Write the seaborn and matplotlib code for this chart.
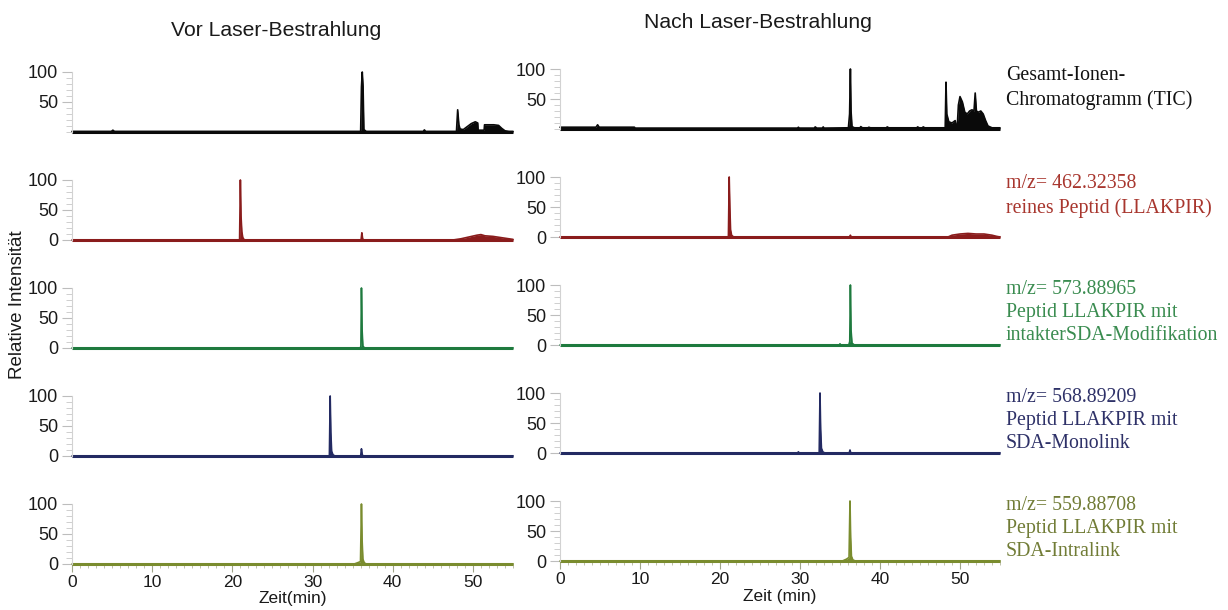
import numpy as np
import pandas as pd
import matplotlib
matplotlib.use("Agg")
import matplotlib.pyplot as plt
from matplotlib.ticker import MultipleLocator, FixedLocator
import seaborn as sns

# ---------------- data (time [min], relative intensity [%]) ----------------
tic_vor = [(0, 1), (4.9, 1), (5.1, 3), (5.3, 1), (36.0, 1), (36.1, 75), (36.2, 100),
           (36.3, 76), (36.4, 4), (36.7, 1), (43.8, 1), (43.95, 3.5), (44.1, 1),
           (47.95, 1), (48.1, 37), (48.25, 12), (48.4, 5), (48.8, 4), (49.3, 9),
           (49.8, 14), (50.3, 17), (50.6, 15), (50.65, 3), (51.4, 3), (51.45, 12),
           (52.0, 12), (52.6, 12), (53.2, 11), (53.6, 6), (54.0, 2), (54.5, 1), (55, 1)]
tic_nach = [(0, 3), (4.5, 3), (4.7, 7), (4.9, 3), (9.3, 3), (9.4, 1.5), (29.7, 1.5),
            (29.8, 3), (29.9, 1.5), (31.8, 1.5), (31.9, 3.5), (32.1, 1.5), (32.8, 1.5),
            (32.9, 3.5), (33.0, 1.5), (36.05, 2), (36.2, 25), (36.3, 100), (36.38, 30),
            (36.5, 4), (36.8, 2), (37.5, 2), (37.6, 4), (37.8, 2), (38.5, 2), (38.6, 3),
            (38.8, 2), (40.8, 2), (40.9, 3.5), (41.1, 2), (44.6, 2), (44.7, 3.5),
            (44.9, 2), (45.3, 2), (45.4, 3.5), (45.6, 2), (48.15, 2), (48.25, 78),
            (48.35, 25), (48.6, 12), (49.0, 10), (49.4, 14), (49.55, 2), (49.65, 2),
            (49.8, 40), (50.0, 54), (50.3, 45), (50.6, 28), (50.9, 25), (51.2, 30),
            (51.5, 32), (51.75, 30), (51.9, 60), (52.05, 30), (52.3, 28), (52.6, 30),
            (52.9, 25), (53.2, 14), (53.5, 5), (54.0, 2), (55, 2)]

red_vor = [(0, 0), (20.9, 0), (21.0, 100), (21.08, 40), (21.18, 14), (21.3, 4),
           (21.5, 0), (36.05, 0), (36.15, 12), (36.25, 2), (36.4, 0), (47.5, 0),
           (48.5, 2), (49.5, 5), (50.5, 8), (51.0, 9), (51.5, 7), (52.5, 6),
           (53.5, 4), (54.5, 2), (55, 1)]
red_nach = [(0, 0), (21.05, 0), (21.15, 100), (21.23, 50), (21.32, 12), (21.45, 3),
            (21.7, 0), (36.2, 0), (36.3, 3), (36.4, 0), (48.5, 0), (49.0, 3),
            (50.0, 5), (51.0, 6), (52.0, 5), (53.0, 5), (54.0, 3), (54.6, 1), (55, 0)]

green_vor = [(0, 0), (35.95, 0), (36.03, 3), (36.1, 100), (36.18, 30), (36.28, 3),
             (36.5, 0), (55, 0)]
green_nach = [(0, 0), (34.9, 0), (35.0, 2), (35.1, 0), (36.1, 0), (36.22, 6),
              (36.3, 100), (36.38, 25), (36.5, 3), (36.8, 0), (55, 0)]

navy_vor = [(0, 0), (32.1, 0), (32.2, 100), (32.28, 40), (32.38, 8), (32.55, 2),
            (32.8, 0), (36.0, 0), (36.1, 12), (36.2, 2), (36.35, 0), (55, 0)]
navy_nach = [(0, 0), (29.7, 0), (29.8, 2), (29.9, 0), (32.4, 0), (32.5, 100),
             (32.58, 40), (32.68, 8), (32.85, 2), (33.1, 0), (36.15, 0), (36.25, 5),
             (36.35, 0), (55, 0)]

olive_vor = [(0, 0), (35.2, 0), (35.6, 2), (35.98, 4), (36.1, 100), (36.18, 40),
             (36.28, 8), (36.45, 2), (36.7, 0), (55, 0)]
olive_nach = [(0, 0), (35.3, 0), (35.8, 3), (36.13, 6), (36.25, 100), (36.33, 40),
              (36.43, 8), (36.6, 2), (36.9, 0), (55, 0)]

col_titles = ["Vor Laser-Bestrahlung", "Nach Laser-Bestrahlung"]
x_labels = ["Zeit(min)", "Zeit (min)"]
y_label = "Relative Intensität"
row_labels = [
    ["Gesamt-Ionen-", "Chromatogramm (TIC)"],
    ["m/z= 462.32358", "reines Peptid (LLAKPIR)"],
    ["m/z= 573.88965", "Peptid LLAKPIR mit", "intakterSDA-Modifikation"],
    ["m/z= 568.89209", "Peptid LLAKPIR mit", "SDA-Monolink"],
    ["m/z= 559.88708", "Peptid LLAKPIR mit", "SDA-Intralink"],
]
x_ticks = [0, 10, 20, 30, 40, 50]

traces = [[tic_vor, tic_nach], [red_vor, red_nach], [green_vor, green_nach],
          [navy_vor, navy_nach], [olive_vor, olive_nach]]
line_colors = ["#0a0a0a", "#8a1c1c", "#1e7a3e", "#232a62", "#7a8c2e"]
label_colors = ["#111111", "#a8362e", "#3a8c50", "#2e3168", "#717c36"]

# ---------------- styling ----------------
sns.set_theme(style="white")
plt.rcParams["font.family"] = ["Liberation Sans", "DejaVu Sans"]

W, H = 1228, 610
fig = plt.figure(figsize=(W / 100, H / 100), dpi=100)
fig.patch.set_facecolor("white")

col_x = [(72, 513), (560, 1000)]
col_dy = [0, -3]
row_zero = [132, 240, 348, 456, 564]
span = 60
offsets_2 = [-53, -29]
offsets_3 = [-56, -32, -9]

for r in range(5):
    for c in range(2):
        x0, x1 = col_x[c]
        y0 = row_zero[r] + col_dy[c]
        ax = fig.add_axes([x0 / W, 1 - y0 / H, (x1 - x0) / W, span / H])
        ax.set_facecolor("none")
        df = pd.DataFrame(traces[r][c], columns=["t", "i"])
        ax.fill_between(df["t"], df["i"], 0, color=line_colors[r], lw=0, clip_on=False)
        sns.lineplot(data=df, x="t", y="i", ax=ax, color=line_colors[r], lw=1.2,
                     estimator=None, sort=False, clip_on=False)
        ax.plot([0, 55], [0, 0], color=line_colors[r], lw=2.2, clip_on=False,
                solid_capstyle="butt")
        ax.set_xlim(0, 55)
        ax.set_ylim(0, 100)
        ax.set_xlabel("")
        ax.set_ylabel("")
        for s in ["top", "right", "bottom"]:
            ax.spines[s].set_visible(False)
        ax.spines["left"].set_color("#d2d2d2")
        ax.spines["left"].set_linewidth(0.8)
        if r == 0:
            ax.yaxis.set_major_locator(FixedLocator([50, 100]))
        else:
            ax.yaxis.set_major_locator(FixedLocator([0, 50, 100]))
        ax.yaxis.set_minor_locator(MultipleLocator(10))
        ax.tick_params(axis="y", which="major", length=7, width=0.8, color="#bdbdbd",
                       labelsize=13, labelcolor="#1a1a1a", pad=3, left=True)
        ax.tick_params(axis="y", which="minor", length=4, width=0.7, color="#cfcfcf",
                       left=True)
        if r == 4:
            ax.xaxis.set_major_locator(FixedLocator(x_ticks))
            ax.xaxis.set_minor_locator(MultipleLocator(1))
            ax.tick_params(axis="x", which="major", length=6, width=0.8,
                           color="#a0a48a", labelsize=12.5, labelcolor="#1a1a1a",
                           pad=2, bottom=True)
            ax.tick_params(axis="x", which="minor", length=3, width=0.6,
                           color="#b4b79e", bottom=True)
            ax.set_xlabel(x_labels[c], fontsize=12.5, color="#1a1a1a", labelpad=1)
        else:
            ax.set_xticks([])

        if c == 1:
            lines = row_labels[r]
            offs = offsets_3 if len(lines) == 3 else offsets_2
            for txt, off in zip(lines, offs):
                yy = y0 + off
                fig.text(1006 / W, 1 - yy / H, txt, fontsize=14.3,
                         family=["Liberation Serif", "DejaVu Serif"],
                         color=label_colors[r], ha="left", va="center")

fig.text(276 / W, 1 - 30 / H, col_titles[0], fontsize=15.2, ha="center", va="center",
         color="#1a1a1a")
fig.text(758 / W, 1 - 22 / H, col_titles[1], fontsize=15.2, ha="center", va="center",
         color="#1a1a1a")
fig.text(18 / W, 1 - 305 / H, y_label, fontsize=13.5, rotation=90, ha="center",
         va="center", color="#1a1a1a")

fig.savefig("out.png", dpi=100, facecolor="white")
